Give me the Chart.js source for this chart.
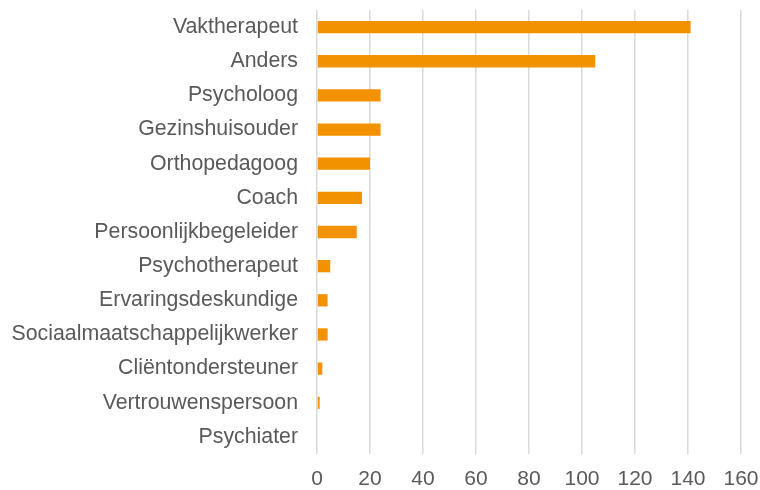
<!DOCTYPE html>
<html><head><meta charset="utf-8">
<script src="https://cdn.jsdelivr.net/npm/chart.js@4/dist/chart.umd.min.js"></script>
<style>html,body{margin:0;padding:0;background:#fff}#c{display:block}</style>
</head><body>
<canvas id="c" width="760" height="490"></canvas>
<script>
const categories = ["Vaktherapeut","Anders","Psycholoog","Gezinshuisouder","Orthopedagoog","Coach","Persoonlijkbegeleider","Psychotherapeut","Ervaringsdeskundige","Sociaalmaatschappelijkwerker","Cliëntondersteuner","Vertrouwenspersoon","Psychiater"];
const counts = [141,105,24,24,20,17,15,5,4,4,2,1,0];
const xTicks = [0,20,40,60,80,100,120,140,160];

const textColor = '#595959';
const fam = '"Liberation Sans", Arial, sans-serif';
new Chart(document.getElementById('c'), {
  type:'bar',
  data:{labels:categories, datasets:[{data:counts, backgroundColor:'#F39200', barPercentage:0.6, categoryPercentage:0.6}]},
  options:{
    indexAxis:'y', responsive:false, animation:false,
    layout:{padding:{top:10, right:19, left:0, bottom:0}},
    plugins:{legend:{display:false}, tooltip:{enabled:false}},
    scales:{
      x:{min:0, max:160, afterBuildTicks:(s)=>{s.ticks = xTicks.map(v=>({value:v}));},
        grid:{color:'#D9D9D9', lineWidth:1.5, drawTicks:false},
        border:{display:false},
        ticks:{color:textColor, font:{family:fam, size:21}, padding:13},
        afterFit:(s)=>{s.height=36; s.paddingLeft=0; s.paddingRight=0;}
      },
      y:{grid:{display:false, drawTicks:false}, border:{display:false},
        ticks:{color:textColor, font:{family:fam, size:21.3}, padding:19, autoSkip:false},
        afterFit:(s)=>{s.width=317; s.paddingTop=0; s.paddingBottom=0;}
      }
    }
  }
});
</script>
</body></html>
